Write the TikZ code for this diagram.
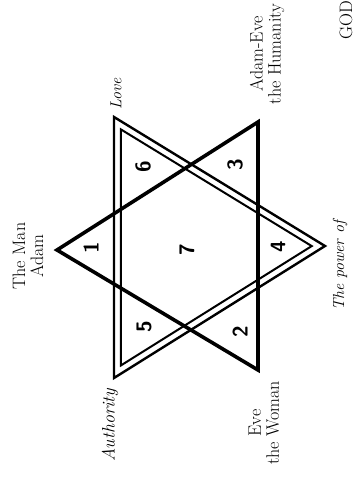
\documentclass[tikz,border=0pt]{standalone}
\usetikzlibrary{calc}
\begin{document}
\begin{tikzpicture}[x=1pt, y=-1pt,
    lbl/.style={rotate=90, align=center, inner sep=0pt, font=\fontsize{18}{18}\selectfont},
    ilbl/.style={rotate=90, inner sep=0pt, font=\fontsize{16}{18}\selectfont\itshape},
    num/.style={rotate=90, inner sep=0pt, font=\fontsize{21}{21}\selectfont\sffamily\bfseries},
    heavy/.style={line width=3.6pt, line join=miter},
    rim/.style={line width=2.4pt, line join=miter}]
  \useasboundingbox (0,0) rectangle (355,477);
  % solid triangle
  \coordinate (man) at (57,250);
  \coordinate (hum) at (258,122);
  \coordinate (eve) at (258,370);
  % double triangle, inner copy shrunk about its centre
  \coordinate (love) at (114,117);
  \coordinate (auth) at (114,378);
  \coordinate (pow) at (325,246);
  \coordinate (ctr) at (186.7,246.7);
  \foreach \v in {love,auth,pow} \coordinate (\v-in) at ($(ctr)!0.904!(\v)$);
  \draw[heavy] (man) -- (hum) -- (eve) -- cycle;
  \draw[rim] (love) -- (auth) -- (pow) -- cycle;
  \draw[rim, line width=2pt] (love-in) -- (auth-in) -- (pow-in) -- cycle;
  \foreach \n/\x/\y in {1/91/248, 6/143/167, 3/235/165, 7/187/250, 4/278/247, 5/144/327, 2/240/332}
    \node[num] (n\n) at (\x,\y) {\n};
  \node[lbl] (adam) at (28,256) {The Man\\Adam};
  \node[lbl] (humanity) at (267,54) {Adam-Eve\\the Humanity};
  \node[lbl] (woman) at (264,423) {Eve\\the Woman};
  \node[ilbl] (lovetxt) at (116,94) {Love};
  \node[ilbl, font=\fontsize{18}{18}\selectfont\itshape] (authtxt) at (110,425) {Authority};
  \node[ilbl] (powtxt) at (340,266) {The power of};
  \node[lbl, anchor=east] (god) at (346,1) {GOD};
\end{tikzpicture}
\end{document}
